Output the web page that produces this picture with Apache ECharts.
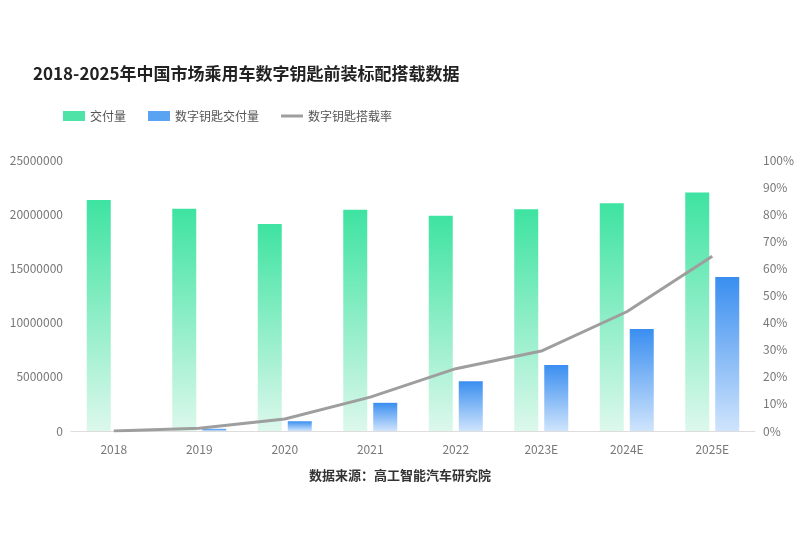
<!DOCTYPE html>
<html><head><meta charset="utf-8">
<script src="https://cdn.jsdelivr.net/npm/echarts@6/dist/echarts.min.js"></script>
<style>html,body{margin:0;padding:0;background:#fff}#c{width:800px;height:533px}</style>
</head><body><div id="c"></div>
<script>
var categories = ['2018', '2019', '2020', '2021', '2022', '2023E', '2024E', '2025E'];
var deliveries = [21300000, 20500000, 19100000, 20400000, 19850000, 20450000, 21000000, 22000000];
var keyDeliveries = [0, 200000, 900000, 2600000, 4600000, 6100000, 9400000, 14200000];
var keyRate = [0, 1, 4.4, 12.5, 23, 29.5, 44, 64.5];

function grad(top, bottom) {
    return new echarts.graphic.LinearGradient(0, 0, 0, 1, [
        {offset: 0, color: top}, {offset: 1, color: bottom}
    ]);
}

var chart = echarts.init(document.getElementById('c'));
chart.setOption({
    animation: false,
    textStyle: {fontFamily: 'Noto Sans CJK SC'},
    title: [{
        text: '2018-2025年中国市场乘用车数字钥匙前装标配搭载数据',
        left: 28, top: 60,
        textStyle: {fontSize: 17, fontWeight: 'bold', color: '#222'}
    }, {
        text: '数据来源：高工智能汽车研究院',
        left: 'center', top: 464,
        textStyle: {fontSize: 13, fontWeight: 'bold', color: '#333'}
    }],
    legend: {
        left: 58, top: 105, itemGap: 22, itemWidth: 22, itemHeight: 10,
        textStyle: {fontSize: 12, color: '#555'},
        data: [
            {name: '交付量', icon: 'rect', itemStyle: {color: '#4fe3a8'}},
            {name: '数字钥匙交付量', icon: 'rect', itemStyle: {color: '#5aa3f2'}},
            {name: '数字钥匙搭载率', icon: 'path://M0,4 L22,4 L22,7 L0,7 Z', itemStyle: {color: '#9e9e9e'}}
        ]
    },
    grid: {left: 71, right: 45, top: 160, bottom: 102},
    xAxis: {
        type: 'category', data: categories,
        axisLine: {lineStyle: {color: '#ddd'}},
        axisTick: {show: false},
        axisLabel: {color: '#777', fontSize: 12, margin: 12}
    },
    yAxis: [{
        type: 'value', min: 0, max: 25000000, interval: 5000000,
        splitLine: {show: false},
        axisLabel: {color: '#777', fontSize: 12, formatter: function (v) { return String(v); }}
    }, {
        type: 'value', min: 0, max: 100, interval: 10,
        splitLine: {show: false},
        axisLabel: {color: '#777', fontSize: 12, formatter: '{value}%'}
    }],
    series: [{
        name: '交付量', type: 'bar', data: deliveries, barWidth: 24, barGap: '25%',
        itemStyle: {color: grad('#3ee3a1', '#dcf8ec')}
    }, {
        name: '数字钥匙交付量', type: 'bar', data: keyDeliveries, barWidth: 24,
        itemStyle: {color: grad('#3a8ef0', '#cfe4fc')}
    }, {
        name: '数字钥匙搭载率', type: 'line', yAxisIndex: 1, data: keyRate,
        showSymbol: false, smooth: false,
        lineStyle: {color: '#9e9e9e', width: 3}, itemStyle: {color: '#9e9e9e'}
    }]
});
</script></body></html>
